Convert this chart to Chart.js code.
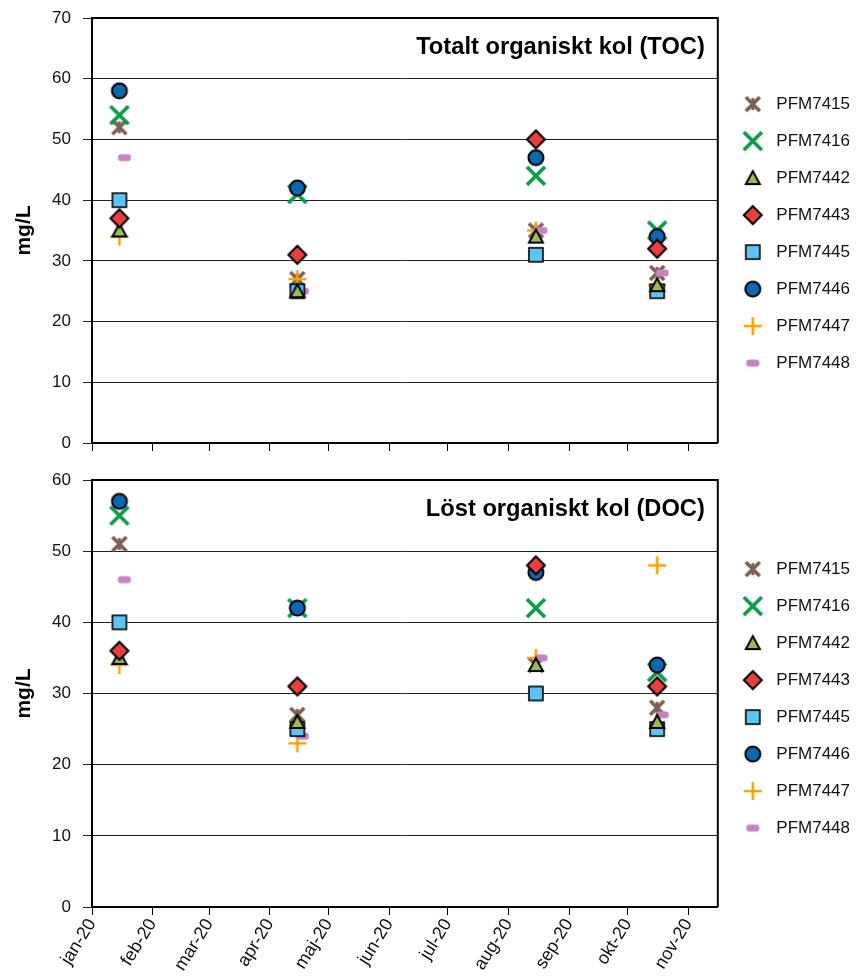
<!DOCTYPE html>
<html>
<head>
<meta charset="utf-8">
<script src="https://cdn.jsdelivr.net/npm/chart.js@4.4.1/dist/chart.umd.min.js"></script>
<style>
  html, body { margin: 0; padding: 0; background: #fff; }
  #wrap { position: relative; width: 862px; height: 976px; }
  canvas { position: absolute; left: 0; }
  #tocChart { top: 0; }
  #docChart { top: 460px; }
</style>
</head>
<body>
<div id="wrap">
  <canvas id="tocChart" width="862" height="460"></canvas>
  <canvas id="docChart" width="862" height="516"></canvas>
</div>
<script>
// ----- Data -----
const stations = ["PFM7415", "PFM7416", "PFM7442", "PFM7443", "PFM7445", "PFM7446", "PFM7447", "PFM7448"];
const sampleDates = ["2020-01-15", "2020-04-15", "2020-08-15", "2020-10-16"];
const monthStarts = ["2020-01-01", "2020-02-01", "2020-03-01", "2020-04-01", "2020-05-01", "2020-06-01",
                     "2020-07-01", "2020-08-01", "2020-09-01", "2020-10-01", "2020-11-01"];
const monthLabels = ["jan-20", "feb-20", "mar-20", "apr-20", "maj-20", "jun-20",
                     "jul-20", "aug-20", "sep-20", "okt-20", "nov-20"];
const axisEnd = "2020-11-16";

// TOC (mg/L), one array per station, same order as sampleDates
const tocPFM7415 = [52, 27, 35, 28];
const tocPFM7416 = [54, 41, 44, 35];
const tocPFM7442 = [35, 25, 34, 26];
const tocPFM7443 = [37, 31, 50, 32];
const tocPFM7445 = [40, 25, 31, 25];
const tocPFM7446 = [58, 42, 47, 34];
const tocPFM7447 = [34, 27, 35, 26];
const tocPFM7448 = [47, 25, 35, 28];

// DOC (mg/L)
const docPFM7415 = [51, 27, 34, 28];
const docPFM7416 = [55, 42, 42, 33];
const docPFM7442 = [35, 26, 34, 26];
const docPFM7443 = [36, 31, 48, 31];
const docPFM7445 = [40, 25, 30, 25];
const docPFM7446 = [57, 42, 47, 34];
const docPFM7447 = [34, 23, 35, 48];
const docPFM7448 = [46, 24, 35, 27];

const tocSeries = [tocPFM7415, tocPFM7416, tocPFM7442, tocPFM7443, tocPFM7445, tocPFM7446, tocPFM7447, tocPFM7448];
const docSeries = [docPFM7415, docPFM7416, docPFM7442, docPFM7443, docPFM7445, docPFM7446, docPFM7447, docPFM7448];

// ----- Helpers -----
const dayOf = d => (Date.parse(d) - Date.parse("2020-01-01")) / 86400000;

Chart.defaults.font.family = '"Liberation Sans", Arial, sans-serif';
Chart.defaults.color = "#111";

// marker images (Excel-like shapes)
function marker(kind, shift) {
  const c = document.createElement("canvas");
  c.width = 30; c.height = 30;
  const g = c.getContext("2d");
  const m = 15;
  const cx = m + (shift || 0);
  if (kind === "star") {
    g.strokeStyle = "#7d6053"; g.lineWidth = 3.6;
    g.beginPath();
    g.moveTo(cx - 7, m - 7); g.lineTo(cx + 7, m + 7);
    g.moveTo(cx + 7, m - 7); g.lineTo(cx - 7, m + 7);
    g.stroke();
    g.lineWidth = 3;
    g.beginPath(); g.moveTo(cx, m - 6); g.lineTo(cx, m + 6); g.stroke();
  } else if (kind === "x") {
    g.strokeStyle = "#0b9a4a"; g.lineWidth = 3.8;
    g.beginPath();
    g.moveTo(cx - 9, m - 9); g.lineTo(cx + 9, m + 9);
    g.moveTo(cx + 9, m - 9); g.lineTo(cx - 9, m + 9);
    g.stroke();
  } else if (kind === "triangle") {
    g.fillStyle = "#9bbb59"; g.strokeStyle = "#000"; g.lineWidth = 2;
    g.beginPath();
    g.moveTo(cx, m - 7); g.lineTo(cx + 7, m + 6); g.lineTo(cx - 7, m + 6); g.closePath();
    g.fill(); g.stroke();
  } else if (kind === "diamond") {
    g.fillStyle = "#e8403e"; g.strokeStyle = "#000"; g.lineWidth = 2;
    g.beginPath();
    g.moveTo(cx, m - 9); g.lineTo(cx + 9, m); g.lineTo(cx, m + 9); g.lineTo(cx - 9, m); g.closePath();
    g.fill(); g.stroke();
  } else if (kind === "square") {
    g.fillStyle = "#5ec3f1"; g.strokeStyle = "#000"; g.lineWidth = 1.6;
    g.fillRect(cx - 7, m - 7, 14, 14); g.strokeRect(cx - 7, m - 7, 14, 14);
  } else if (kind === "circle") {
    g.fillStyle = "#0c68b3"; g.strokeStyle = "#000"; g.lineWidth = 2;
    g.beginPath(); g.arc(cx, m, 7.5, 0, Math.PI * 2); g.fill(); g.stroke();
  } else if (kind === "plus") {
    g.strokeStyle = "#f7a400"; g.lineWidth = 2.6;
    g.beginPath();
    g.moveTo(cx - 9, m); g.lineTo(cx + 9, m);
    g.moveTo(cx, m - 9); g.lineTo(cx, m + 9);
    g.stroke();
  } else if (kind === "dash") {
    g.fillStyle = "#c384bf";
    g.beginPath(); g.roundRect(cx - 6.5, m - 3.5, 13, 7, 3); g.fill();
  }
  return c;
}

const styles = ["star", "x", "triangle", "diamond", "square", "circle", "plus", "dash"];
const colours = ["#7d6053", "#0b9a4a", "#9bbb59", "#e8403e", "#5ec3f1", "#0c68b3", "#f7a400", "#c384bf"];
// draw order (lower = on top)
const drawOrder = [8, 7, 2, 1, 4, 3, 6, 5];
const plotMarkers = styles.map(s => marker(s, s === "dash" ? 5 : 0));
const legendMarkers = styles.map(s => marker(s, 0));

// title inside the plot + frame
const panelTitle = {
  id: "panelTitle",
  beforeDatasetsDraw(chart) {
    const { ctx, chartArea: a } = chart;
    ctx.save();
    ctx.strokeStyle = "#000"; ctx.lineWidth = 2;
    ctx.beginPath();
    ctx.moveTo(a.left, a.top); ctx.lineTo(a.right, a.top); ctx.lineTo(a.right, a.bottom);
    ctx.stroke();
    ctx.restore();
  },
  afterDraw(chart, args, opts) {
    const { ctx, chartArea: a } = chart;
    ctx.save();
    ctx.font = 'bold 23.7px "Liberation Sans", Arial, sans-serif';
    ctx.fillStyle = "#000";
    ctx.textAlign = "right";
    ctx.textBaseline = "middle";
    ctx.fillText(opts.text, a.right - 13, a.top + 29);
    ctx.restore();
  }
};

function buildChart(id, title, series, yMax, cfg) {
  const datasets = stations.map((name, i) => ({
    label: name,
    data: sampleDates.map((d, j) => ({ x: dayOf(d), y: series[i][j] })),
    pointStyle: plotMarkers[i],
    backgroundColor: colours[i],
    borderColor: colours[i],
    order: drawOrder[i],
    showLine: false
  }));

  return new Chart(document.getElementById(id), {
    type: "scatter",
    data: { datasets },
    plugins: [panelTitle],
    options: {
      responsive: false,
      animation: false,
      layout: { padding: { top: cfg.top, right: 2, left: 0, bottom: 0 } },
      plugins: {
        tooltip: { enabled: false },
        panelTitle: { text: title },
        legend: {
          position: "right",
          fullSize: false,
          // empty title only nudges the legend block down a little
          title: { display: true, text: "", font: { size: 1 }, padding: { top: cfg.legendNudge, bottom: 0 } },
          labels: {
            usePointStyle: true,
            pointStyleWidth: 30,
            padding: 20,
            color: "#111",
            font: { size: 17 },
            sort: (a, b) => a.datasetIndex - b.datasetIndex,
            generateLabels: chart => {
              const items = Chart.defaults.plugins.legend.labels.generateLabels(chart);
              items.forEach(it => { it.pointStyle = legendMarkers[it.datasetIndex]; });
              return items;
            }
          }
        }
      },
      scales: {
        x: {
          type: "linear",
          min: 0,
          max: dayOf(axisEnd),
          afterBuildTicks: s => { s.ticks = monthStarts.map(d => ({ value: dayOf(d) })); },
          afterFit: s => { s.height = cfg.xHeight; s.paddingLeft = 0; s.paddingRight = 0; },
          ticks: {
            display: cfg.showMonths,
            autoSkip: false,
            minRotation: 58,
            maxRotation: 58,
            padding: 0,
            color: "#111",
            font: { size: 18 },
            callback: (v, i) => monthLabels[i]
          },
          grid: { drawOnChartArea: false, drawTicks: true, tickLength: 8, color: "#000", lineWidth: 1 },
          border: { color: "#000", width: 2 }
        },
        y: {
          min: 0,
          max: yMax,
          afterFit: s => { s.width = 92; s.paddingTop = 0; s.paddingBottom = 0; },
          ticks: { stepSize: 10, padding: 12, color: "#111", font: { size: 17 } },
          grid: { color: "#222", lineWidth: 1, tickLength: 9 },
          border: { color: "#000", width: 2 },
          title: {
            display: true,
            text: "mg/L",
            color: "#000",
            font: { size: 21, weight: "bold" },
            padding: { top: 12, bottom: 0 }
          }
        }
      }
    }
  });
}

buildChart("tocChart", "Totalt organiskt kol (TOC)", tocSeries, 70,
  { top: 18, xHeight: 17, showMonths: false, legendNudge: 5 });
buildChart("docChart", "Löst organiskt kol (DOC)", docSeries, 60,
  { top: 20, xHeight: 69, showMonths: true, legendNudge: 9 });
</script>
</body>
</html>
